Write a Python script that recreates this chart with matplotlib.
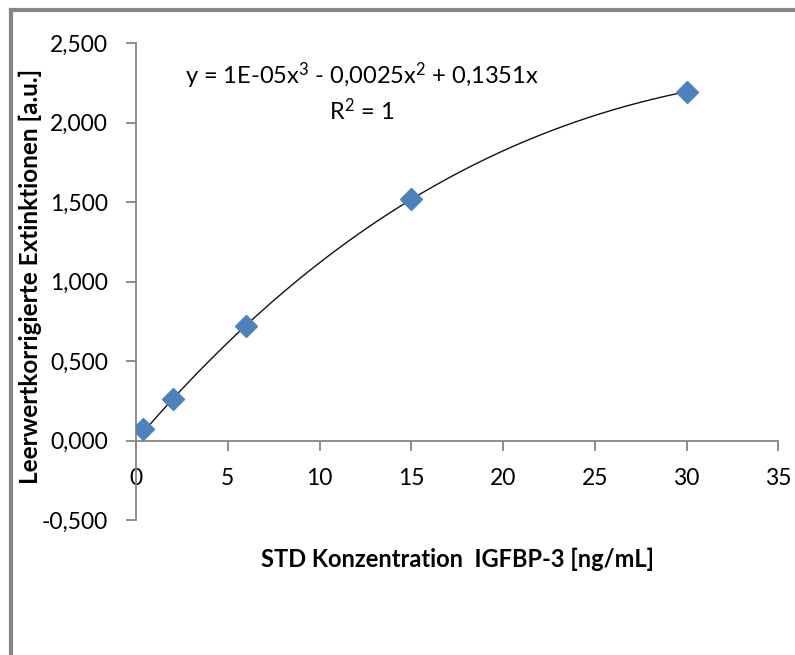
import numpy as np
import matplotlib
matplotlib.use("Agg")
import matplotlib.pyplot as plt
from matplotlib.lines import Line2D
from matplotlib.ticker import FuncFormatter, MultipleLocator

plt.rcParams['font.family'] = ['Lato', 'DejaVu Sans']
plt.rcParams['mathtext.fontset'] = 'custom'
plt.rcParams['mathtext.rm'] = 'Lato'
plt.rcParams['mathtext.it'] = 'Lato'
plt.rcParams['mathtext.bf'] = 'Lato:bold'

# Standard concentrations and blank-corrected extinctions
concentration = [0.375, 2, 6, 15, 30]
extinction = [0.072, 0.261, 0.722, 1.517, 2.194]

x_label = "STD Konzentration  IGFBP-3 [ng/mL]"
y_label = "Leerwertkorrigierte Extinktionen [a.u.]"
equation = "y = 1E-05x$^{3}$ - 0,0025x$^{2}$ + 0,1351x\nR$^{2}$ = 1"

# Cubic trendline through the origin (least squares)
xs = np.asarray(concentration, float)
ys = np.asarray(extinction, float)
A = np.column_stack([xs**3, xs**2, xs])
coef, *_ = np.linalg.lstsq(A, ys, rcond=None)
xt = np.linspace(xs.min(), xs.max(), 300)
yt = coef[0] * xt**3 + coef[1] * xt**2 + coef[2] * xt

W, H = 795, 655
fig = plt.figure(figsize=(W / 100, H / 100), dpi=100)
ax = fig.add_axes([136 / W, (H - 520) / H, (778.3 - 136) / W, 477 / H])

axis_grey = "#868686"
ax.plot(xt, yt, color="#111111", lw=1.0, zorder=2)
ax.plot(xs, ys, linestyle="none", marker="D", ms=11, color="#4F81BD",
        markeredgecolor="#4F81BD", zorder=3)

ax.set_xlim(0, 35)
ax.set_ylim(-0.5, 2.5)
ax.xaxis.set_major_locator(MultipleLocator(5))
ax.yaxis.set_major_locator(MultipleLocator(0.5))
ax.yaxis.set_major_formatter(FuncFormatter(lambda v, p: f"{v:.3f}".replace(".", ",")))
ax.xaxis.set_major_formatter(FuncFormatter(lambda v, p: f"{v:.0f}"))

for side in ("top", "right"):
    ax.spines[side].set_visible(False)
ax.spines["bottom"].set_position(("data", 0))
for side in ("left", "bottom"):
    ax.spines[side].set_color(axis_grey)
    ax.spines[side].set_linewidth(1.3)

ax.tick_params(axis="both", direction="out", length=7, width=1.3, color=axis_grey,
               labelsize=16.5, labelcolor="#000000")
ax.tick_params(axis="x", pad=13)
ax.tick_params(axis="y", pad=13)

ax.set_xlabel(x_label, fontsize=17, fontweight="bold")
ax.xaxis.set_label_coords(0.5, -0.082)
ax.xaxis.label.set_va("center")
ax.set_ylabel(y_label, fontsize=17.5, fontweight="bold")
ax.yaxis.set_label_coords(-0.165, 0.51)
ax.yaxis.label.set_va("center")

ax.text(12.3, 2.19, equation, ha="center", va="center", fontsize=17, linespacing=1.3)

# Outer chart frame (left and top edges)
frame_kw = dict(color=axis_grey, lw=3, transform=fig.transFigure, clip_on=False)
fig.add_artist(Line2D([11 / W, 11 / W], [0, (H - 10) / H], **frame_kw))
fig.add_artist(Line2D([11 / W, 1], [(H - 10) / H, (H - 10) / H], **frame_kw))

fig.savefig("out.png", dpi=100, facecolor="white")
